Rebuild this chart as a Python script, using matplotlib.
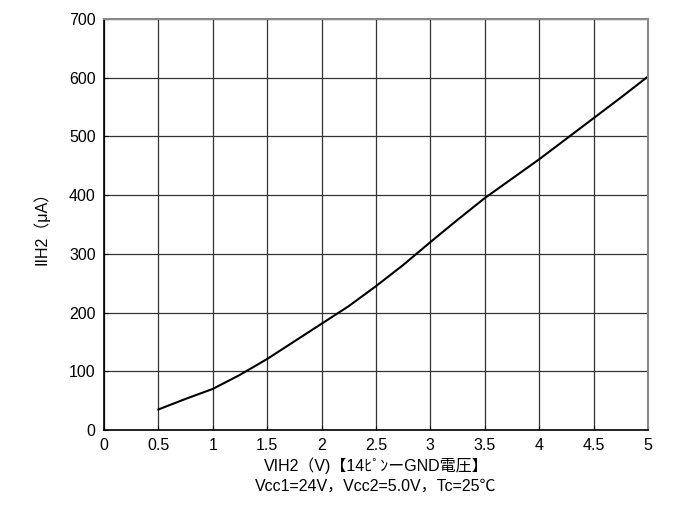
import matplotlib
matplotlib.use('Agg')
import matplotlib.pyplot as plt

plt.rcParams['font.family'] = ['Liberation Sans', 'Noto Sans CJK JP', 'DejaVu Sans']

# input voltage (V) vs input current (uA)
VIH2 = [0.5, 0.75, 1.0, 1.25, 1.5, 1.75, 2.0, 2.25, 2.5, 2.75,
        3.0, 3.25, 3.5, 3.75, 4.0, 4.25, 4.5, 4.75, 5.0]
IIH2 = [35, 53, 70, 94, 121, 151, 181, 211, 245, 281,
        320, 358, 395, 428, 461, 496, 531, 566, 602]

XTICKS = [0, 0.5, 1, 1.5, 2, 2.5, 3, 3.5, 4, 4.5, 5]
XTICKLABELS = ['0', '0.5', '1', '1.5', '2', '2.5', '3', '3.5', '4', '4.5', '5']
YTICKS = [0, 100, 200, 300, 400, 500, 600, 700]

fig = plt.figure(figsize=(6.74, 5.29), dpi=100)
ax = fig.add_axes([0.1543, 0.1871, 0.807, 0.777])

ax.plot(VIH2, IIH2, color='black', lw=1.5)

ax.set_xlim(0, 5)
ax.set_ylim(0, 700)
ax.set_xticks(XTICKS)
ax.set_xticklabels(XTICKLABELS)
ax.set_yticks(YTICKS)
ax.grid(True, color='#333333', lw=0.9)
ax.tick_params(direction='in', length=3, labelsize=11.5, pad=6, colors='black')

for side in ['left', 'bottom']:
    ax.spines[side].set_color('black')
    ax.spines[side].set_linewidth(1.2)
for side in ['top', 'right']:
    ax.spines[side].set_color('#888888')
    ax.spines[side].set_linewidth(1.5)

ax.set_xlabel('VIH2（V)【14ﾋﾟﾝーGND電圧】\nVcc1=24V，Vcc2=5.0V，Tc=25℃',
              fontsize=11.5, linespacing=1.35, labelpad=3)
ax.set_ylabel('IIH2（μA）', fontsize=11.5, labelpad=14)

fig.savefig('out.png', dpi=100)
